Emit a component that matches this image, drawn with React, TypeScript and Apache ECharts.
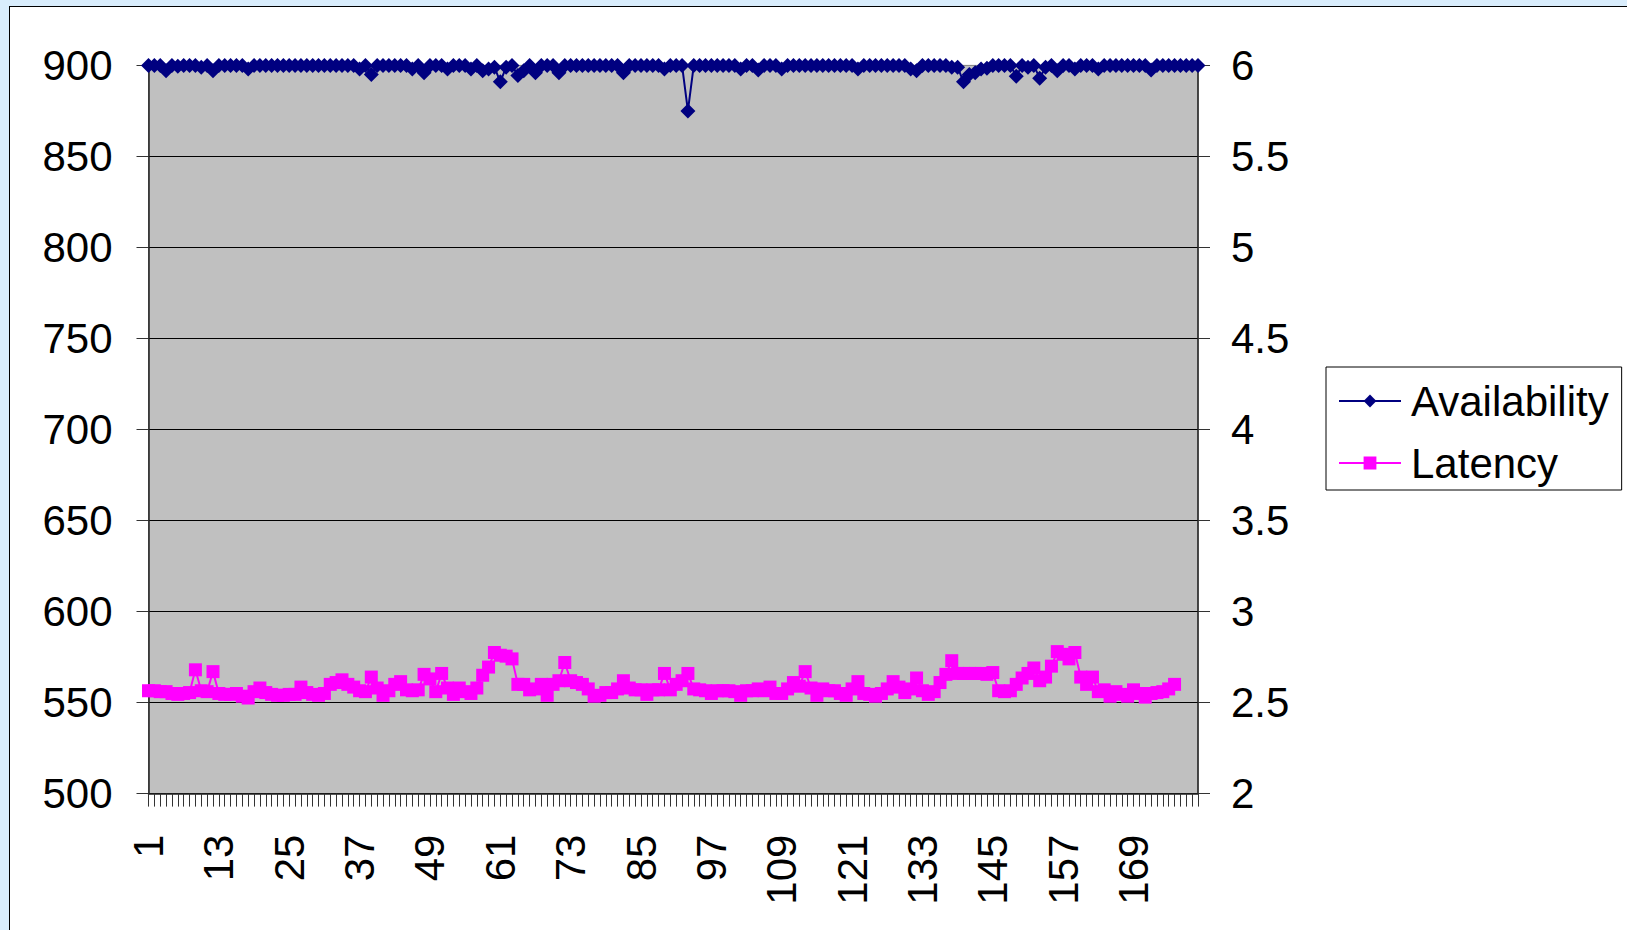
import React, { useEffect, useRef } from "react";
import * as echarts from "echarts";

const categories: string[] = Array.from({ length: 180 }, (_, i) => String(i + 1));

const availability: number[] = [
  900, 900, 900, 897, 900, 899.5, 900, 900, 900, 899,
  900, 897, 900, 900, 900, 900, 900, 898, 900, 900,
  900, 900, 900, 900, 900, 900, 900, 900, 900, 900,
  900, 900, 900, 900, 900, 900, 898, 900, 895, 900,
  900, 900, 900, 900, 900, 898, 900, 896, 900, 900,
  900, 898, 900, 900, 900, 898, 900, 897, 898, 899,
  891, 899, 900, 894.5, 897, 900, 896, 900, 900, 900,
  896, 900, 900, 900, 900, 900, 900, 900, 900, 900,
  900, 896, 900, 900, 900, 900, 900, 900, 898, 900,
  900, 900, 875, 900, 900, 900, 900, 900, 900, 900,
  900, 898, 900, 900, 897.5, 900, 900, 900, 898, 900,
  900, 900, 900, 900, 900, 900, 900, 900, 900, 900,
  900, 898, 900, 900, 900, 900, 900, 900, 900, 900,
  898, 897, 900, 900, 900, 900, 900, 899, 899, 891,
  895, 896, 898, 898.5, 900, 900, 900, 900, 894, 900,
  899, 900, 893, 899, 900, 897, 900, 900, 898, 900,
  900, 900, 898, 900, 900, 900, 900, 900, 900, 900,
  900, 897.5, 900, 900, 900, 900, 900, 900, 900, 900,
];

const latency: number[] = [
  2.565, 2.565, 2.56, 2.56, 2.55, 2.545, 2.55, 2.555, 2.68, 2.565,
  2.56, 2.67, 2.55, 2.545, 2.545, 2.55, 2.535, 2.525, 2.56, 2.58,
  2.555, 2.545, 2.54, 2.54, 2.545, 2.545, 2.585, 2.555, 2.545, 2.54,
  2.55, 2.6, 2.61, 2.625, 2.6, 2.585, 2.565, 2.56, 2.64, 2.58,
  2.54, 2.565, 2.6, 2.615, 2.57, 2.565, 2.57, 2.655, 2.63, 2.56,
  2.66, 2.58, 2.545, 2.58, 2.56, 2.55, 2.58, 2.65, 2.695, 2.775,
  2.76, 2.755, 2.74, 2.6, 2.6, 2.57, 2.575, 2.6, 2.54, 2.6,
  2.62, 2.72, 2.62, 2.61, 2.6, 2.575, 2.535, 2.54, 2.555, 2.555,
  2.575, 2.62, 2.58, 2.57, 2.57, 2.545, 2.57, 2.57, 2.66, 2.57,
  2.6, 2.62, 2.66, 2.575, 2.57, 2.565, 2.55, 2.565, 2.565, 2.565,
  2.56, 2.54, 2.565, 2.565, 2.575, 2.565, 2.585, 2.55, 2.55, 2.575,
  2.61, 2.59, 2.67, 2.58, 2.54, 2.575, 2.565, 2.565, 2.55, 2.54,
  2.575, 2.615, 2.55, 2.545, 2.535, 2.55, 2.575, 2.615, 2.585, 2.555,
  2.575, 2.635, 2.565, 2.545, 2.56, 2.61, 2.655, 2.73, 2.66, 2.66,
  2.66, 2.66, 2.66, 2.655, 2.665, 2.565, 2.56, 2.565, 2.6, 2.635,
  2.66, 2.69, 2.62, 2.64, 2.7, 2.78, 2.765, 2.74, 2.775, 2.64,
  2.6, 2.64, 2.56, 2.57, 2.535, 2.56, 2.545, 2.535, 2.57, 2.55,
  2.53, 2.55, 2.555, 2.56, 2.575, 2.6,
];

const FONT = "Liberation Sans, Arial, sans-serif";

export default function App() {
  const ref = useRef<HTMLDivElement>(null);

  useEffect(() => {
    if (!ref.current) return;
    const chart = echarts.init(ref.current, null, { renderer: "svg" });
    chart.setOption({
      animation: false,
      grid: {
        left: 148.5,
        right: 429,
        top: 65.4,
        bottom: 136.4,
        show: true,
        backgroundColor: "#c0c0c0",
        borderColor: "#808080",
        borderWidth: 1,
      },
      legend: {
        orient: "vertical",
        left: 1326,
        top: 367,
        padding: [10, 13, 3, 12],
        itemGap: 14,
        itemWidth: 62,
        itemHeight: 16,
        backgroundColor: "#ffffff",
        borderColor: "#000000",
        borderWidth: 1,
        borderRadius: 0,
        textStyle: {
          fontFamily: FONT,
          fontSize: 42,
          lineHeight: 48,
          color: "#000",
          padding: [0, 0, 0, 5],
        },
        data: ["Availability", "Latency"],
      },
      xAxis: {
        type: "category",
        data: categories,
        boundaryGap: false,
        axisLine: { show: true, lineStyle: { color: "#222", width: 1.5 } },
        axisTick: {
          show: true,
          interval: 0,
          inside: false,
          length: 13,
          lineStyle: { color: "#333", width: 1 },
        },
        axisLabel: {
          interval: 11,
          rotate: 90,
          margin: 41,
          fontFamily: FONT,
          fontSize: 42,
          color: "#000",
        },
        splitLine: { show: false },
      },
      yAxis: [
        {
          type: "value",
          min: 500,
          max: 900,
          interval: 50,
          position: "left",
          axisLine: { show: true, lineStyle: { color: "#222", width: 1.5 } },
          axisTick: { show: true, inside: false, length: 12, lineStyle: { color: "#333" } },
          axisLabel: {
            margin: 36,
            fontFamily: FONT,
            fontSize: 42,
            color: "#000",
          },
          splitLine: {
            show: true,
            showMaxLine: false,
            lineStyle: { color: "#000", width: 1 },
          },
        },
        {
          type: "value",
          min: 2,
          max: 6,
          interval: 0.5,
          position: "right",
          axisLine: { show: true, lineStyle: { color: "#222", width: 1.5 } },
          axisTick: { show: true, inside: false, length: 12, lineStyle: { color: "#333" } },
          axisLabel: {
            margin: 33,
            fontFamily: FONT,
            fontSize: 42,
            color: "#000",
          },
          splitLine: { show: false },
        },
      ],
      series: [
        {
          name: "Availability",
          type: "line",
          yAxisIndex: 0,
          data: availability,
          symbol: "diamond",
          symbolSize: 15,
          showAllSymbol: true,
          color: "#000080",
          lineStyle: { color: "#000080", width: 2 },
          itemStyle: { color: "#000080" },
          z: 3,
        },
        {
          name: "Latency",
          type: "line",
          yAxisIndex: 1,
          data: latency,
          symbol: "rect",
          symbolSize: 13,
          showAllSymbol: true,
          color: "#ff00ff",
          lineStyle: { color: "#ff00ff", width: 2 },
          itemStyle: { color: "#ff00ff" },
          z: 2,
        },
      ],
    });
    return () => chart.dispose();
  }, []);

  return (
    <div
      style={{
        position: "fixed",
        left: 0,
        top: 0,
        width: 1627,
        height: 930,
        overflow: "hidden",
        background: "#d9edfc",
      }}
    >
      <div
        style={{
          position: "absolute",
          left: 9,
          top: 6,
          width: 1700,
          height: 1000,
          background: "#ffffff",
          border: "1.5px solid #000",
        }}
      />
      <div
        ref={ref}
        style={{ position: "absolute", left: 0, top: 0, width: 1627, height: 930 }}
      />
    </div>
  );
}
